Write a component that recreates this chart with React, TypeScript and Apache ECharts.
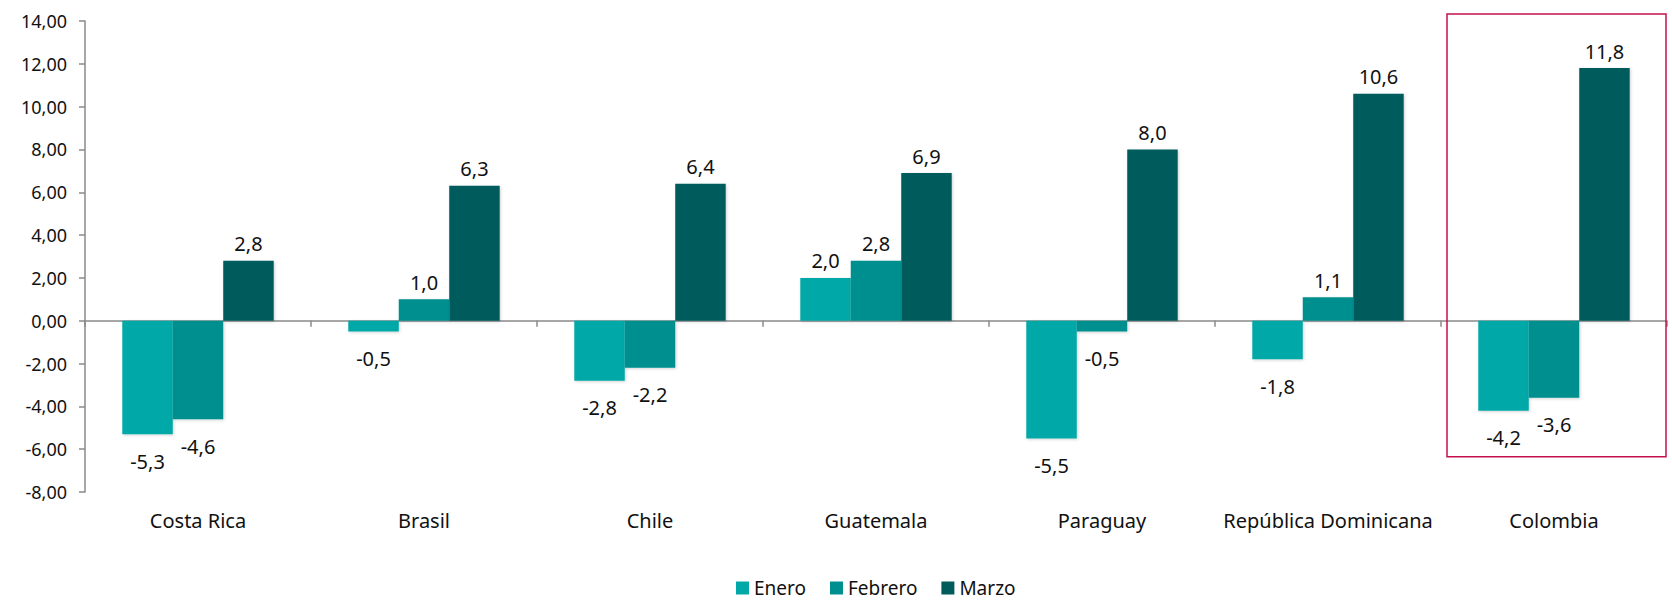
import React, { useEffect, useRef } from "react";
import * as echarts from "echarts";

const categories = ["Costa Rica", "Brasil", "Chile", "Guatemala", "Paraguay", "República Dominicana", "Colombia"];
const enero = [-5.3, -0.5, -2.8, 2.0, -5.5, -1.8, -4.2];
const febrero = [-4.6, 1.0, -2.2, 2.8, -0.5, 1.1, -3.6];
const marzo = [2.8, 6.3, 6.4, 6.9, 8.0, 10.6, 11.8];
const seriesNames = ["Enero", "Febrero", "Marzo"];
const colors = ["#00A8A8", "#008F8F", "#005C5B"];
const highlighted = "Colombia";

const FONT = "'Noto Sans', 'Open Sans', sans-serif";
const TEXT = "#111111";
const AXIS = "#8a8a8a";

export default function App() {
  const ref = useRef<HTMLDivElement>(null);
  useEffect(() => {
    document.body.style.margin = "0";
    if (!ref.current) return;
    const chart = echarts.init(ref.current, null, { renderer: "svg" });
    const fmt1 = (v: number) => v.toFixed(1).replace(".", ",");
    const mkSeries = (name: string, data: number[], color: string) => ({
      name,
      type: "bar",
      xAxisIndex: 0,
      data: data.map((v) => ({
        value: v,
        label: { position: v >= 0 ? "top" : "bottom", distance: v >= 0 ? 7 : 17 },
      })),
      itemStyle: {
        color,
        shadowColor: "rgba(0,0,0,0.18)",
        shadowBlur: 3,
        shadowOffsetX: 1,
        shadowOffsetY: 1,
      },
      barGap: "0%",
      barCategoryGap: "33%",
      label: {
        show: true,
        formatter: (p: any) => fmt1(p.value),
        fontFamily: FONT,
        fontSize: 20,
        color: TEXT,
      },
    });
    chart.setOption({
      animation: false,
      textStyle: { fontFamily: FONT },
      grid: { left: 85, right: 5, top: 21, bottom: 108, containLabel: false },
      legend: {
        top: 572,
        left: 731,
        icon: "rect",
        itemWidth: 13,
        itemHeight: 13,
        itemGap: 24,
        textStyle: { fontFamily: FONT, fontSize: 19, color: TEXT, lineHeight: 22 },
        data: seriesNames,
      },
      xAxis: [
        {
          type: "category",
          data: categories,
          position: "bottom",
          axisLine: { show: false, onZero: false },
          axisTick: { show: false },
          axisLabel: { fontFamily: FONT, fontSize: 20, color: TEXT, margin: 18, interval: 0 },
        },
        {
          type: "category",
          data: categories,
          position: "top",
          axisLine: { show: true, onZero: true, lineStyle: { color: AXIS, width: 1.5 } },
          axisTick: { show: true, inside: true, length: 6, lineStyle: { color: AXIS, width: 1.5 } },
          axisLabel: { show: false },
        },
      ],
      yAxis: {
        type: "value",
        min: -8,
        max: 14,
        interval: 2,
        axisLine: { show: true, lineStyle: { color: AXIS, width: 1.5 } },
        axisTick: { show: true, length: 6, lineStyle: { color: AXIS, width: 1.5 } },
        splitLine: { show: false },
        axisLabel: {
          fontFamily: FONT,
          fontSize: 18,
          color: TEXT,
          margin: 18,
          formatter: (v: number) => v.toFixed(2).replace(".", ","),
        },
      },
      series: [
        mkSeries(seriesNames[0], enero, colors[0]),
        mkSeries(seriesNames[1], febrero, colors[1]),
        mkSeries(seriesNames[2], marzo, colors[2]),
      ],
    });
    // Highlight box around the highlighted category
    const idx = categories.indexOf(highlighted);
    const c0 = chart.convertToPixel({ xAxisIndex: 0 }, idx) as number;
    const c1 = chart.convertToPixel({ xAxisIndex: 0 }, idx - 1) as number;
    const band = c0 - c1;
    const top = (chart.convertToPixel({ yAxisIndex: 0 }, 14) as number) - 7;
    const bot = chart.convertToPixel({ yAxisIndex: 0 }, -6.35) as number;
    const left = c0 - band / 2 + 6;
    const right = c0 + band / 2 - 1;
    chart.setOption({
      graphic: [
        {
          type: "rect",
          shape: { x: left, y: top, width: right - left, height: bot - top },
          style: { fill: "none", stroke: "#C4104E", lineWidth: 1.5 },
          z: 100,
        },
      ],
    });
    return () => chart.dispose();
  }, []);
  return <div ref={ref} style={{ width: 1672, height: 600 }} />;
}
